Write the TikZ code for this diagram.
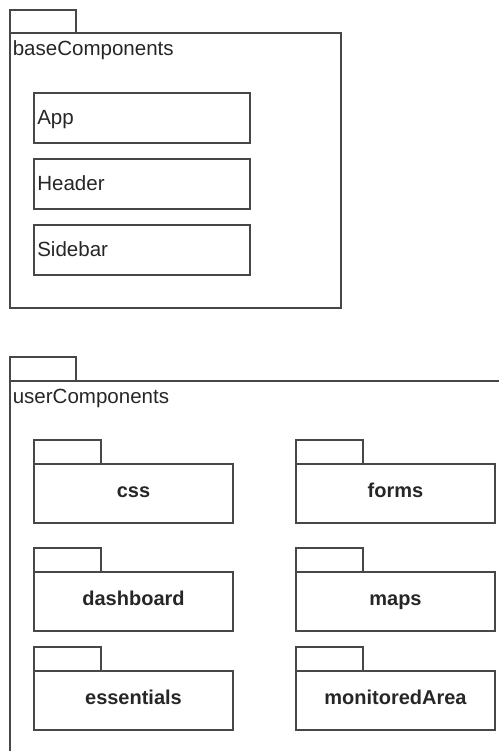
\documentclass[tikz,border=0pt]{standalone}
\usepackage{fontspec}
\setmainfont{Liberation Sans}
\begin{document}
\begin{tikzpicture}[x=0.75pt,y=-0.75pt,
  ln/.style={draw=black!72,line width=1pt},
  lbl/.style={inner sep=0pt,anchor=base west,text=black!85,font=\fontsize{15.4}{18}\selectfont},
  plbl/.style={inner sep=0pt,anchor=base,text=black!85,font=\fontsize{15}{18}\selectfont\bfseries},
  cls/.style={ln,fill=white}]
\useasboundingbox (0,0) rectangle (499,751);
% baseComponents package
\draw[ln] (10,33) rectangle (76,10);
\draw[ln] (10,33) rectangle (341,308);
\node[lbl] (bc) at (12.5,55) {baseComponents};
\draw[cls] (34,93) rectangle (250,143);
\node[lbl] (app) at (37,124.5) {App};
\draw[cls] (34,159) rectangle (250,209);
\node[lbl] (hdr) at (37,190.5) {Header};
\draw[cls] (34,225) rectangle (250,275);
\node[lbl] (sb) at (37,256.5) {Sidebar};
% userComponents package
\draw[ln] (10,381) rectangle (76,357);
\draw[ln] (499,381) -- (10,381) -- (10,751);
\node[lbl] (uc) at (12.5,403) {userComponents};
% inner packages
\foreach \x/\y/\t/\n in {34/440/css/p1, 296/440/forms/p2, 34/548/dashboard/p3, 296/548/maps/p4, 34/647/essentials/p5, 296/647/monitoredArea/p6}{
  \draw[ln] (\x,\y+24) rectangle (\x+67,\y);
  \draw[ln] (\x,\y+24) rectangle (\x+199,\y+83);
  \node[plbl] (\n) at (\x+99.5,\y+57) {\t};
}
\end{tikzpicture}
\end{document}
